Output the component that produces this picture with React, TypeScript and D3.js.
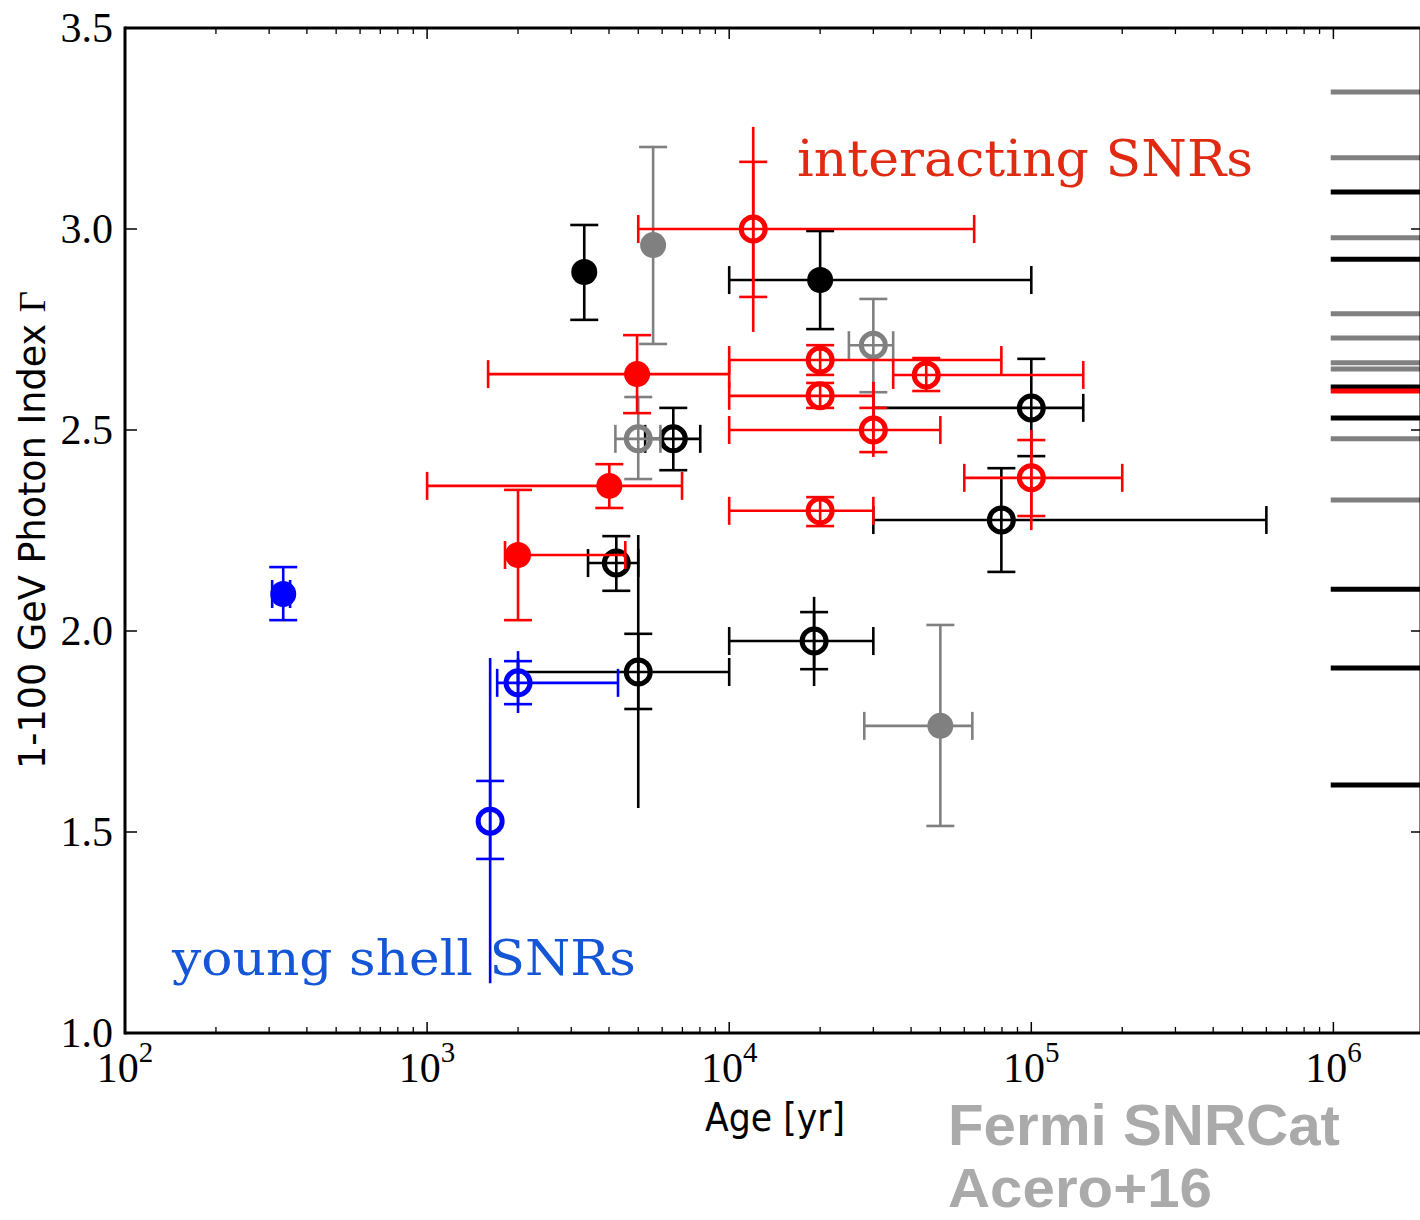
import React from "react";
import * as d3 from "d3";

type Pt = {
  age: number; ageLo?: number; ageHi?: number;
  idx: number; idxLo: number; idxHi: number;
  sysLo?: number; sysHi?: number; filled: boolean;
};

// young shell SNRs (blue)
const youngShell: Pt[] = [
  { age: 334, ageLo: 307, ageHi: 352, idx: 2.092, idxLo: 2.027, idxHi: 2.159, filled: true },
  { age: 2000, ageLo: 1706, ageHi: 4285, idx: 1.871, idxLo: 1.818, idxHi: 1.925, sysLo: 1.796, sysHi: 1.95, filled: false },
  { age: 1617, idx: 1.527, idxLo: 1.433, idxHi: 1.627, sysLo: 1.124, sysHi: 1.933, filled: false },
];

// interacting SNRs (red)
const interacting: Pt[] = [
  { age: 2000, ageLo: 1811, ageHi: 4530, idx: 2.189, idxLo: 2.027, idxHi: 2.351, filled: true },
  { age: 4010, ageLo: 1000, ageHi: 6980, idx: 2.361, idxLo: 2.306, idxHi: 2.415, filled: true },
  { age: 4955, ageLo: 1592, ageHi: 10000, idx: 2.639, idxLo: 2.542, idxHi: 2.736, filled: true },
  { age: 12010, ageLo: 5000, ageHi: 64700, idx: 3.0, idxLo: 2.831, idxHi: 3.167, sysLo: 2.744, sysHi: 3.254, filled: false },
  { age: 20000, ageLo: 10000, ageHi: 79600, idx: 2.674, idxLo: 2.637, idxHi: 2.711, filled: false },
  { age: 20000, ageLo: 10000, ageHi: 30000, idx: 2.585, idxLo: 2.555, idxHi: 2.617, filled: false },
  { age: 44900, ageLo: 34900, ageHi: 148600, idx: 2.637, idxLo: 2.597, idxHi: 2.679, filled: false },
  { age: 30000, ageLo: 10000, ageHi: 50000, idx: 2.5, idxLo: 2.445, idxHi: 2.555, sysLo: 2.433, sysHi: 2.619, filled: false },
  { age: 20000, ageLo: 10000, ageHi: 30000, idx: 2.299, idxLo: 2.261, idxHi: 2.333, filled: false },
  { age: 100000, ageLo: 60000, ageHi: 200000, idx: 2.381, idxLo: 2.286, idxHi: 2.475, sysLo: 2.251, sysHi: 2.5, filled: false },
];

// marginal candidates (gray)
const marginal: Pt[] = [
  { age: 5600, idx: 2.96, idxLo: 2.714, idxHi: 3.204, filled: true },
  { age: 5000, ageLo: 4200, ageHi: 5920, idx: 2.478, idxLo: 2.378, idxHi: 2.582, filled: false },
  { age: 30000, ageLo: 24900, ageHi: 34900, idx: 2.711, idxLo: 2.594, idxHi: 2.826, filled: false },
  { age: 50000, ageLo: 28000, ageHi: 63800, idx: 1.764, idxLo: 1.515, idxHi: 2.015, filled: true },
];

// other classified SNRs (black)
const classified: Pt[] = [
  { age: 3313, idx: 2.893, idxLo: 2.774, idxHi: 3.01, filled: true },
  { age: 20000, ageLo: 10000, ageHi: 100000, idx: 2.873, idxLo: 2.751, idxHi: 2.995, filled: true },
  { age: 6530, ageLo: 5270, ageHi: 8020, idx: 2.478, idxLo: 2.4, idxHi: 2.555, filled: false },
  { age: 4230, ageLo: 3410, ageHi: 5000, idx: 2.169, idxLo: 2.1, idxHi: 2.236, filled: false },
  { age: 5000, ageLo: 2000, ageHi: 10000, idx: 1.898, idxLo: 1.806, idxHi: 1.993, sysLo: 1.56, sysHi: 2.239, filled: false },
  { age: 100000, ageLo: 30000, ageHi: 148600, idx: 2.555, idxLo: 2.435, idxHi: 2.677, filled: false },
  { age: 79600, ageLo: 30000, ageHi: 600000, idx: 2.276, idxLo: 2.147, idxHi: 2.405, filled: false },
  { age: 19100, ageLo: 10000, ageHi: 30000, idx: 1.975, idxLo: 1.905, idxHi: 2.047, sysLo: 1.863, sysHi: 2.085, filled: false },
];

// unknown-age sources, drawn at the right edge
const grayNoAge = [3.341, 3.177, 2.978, 2.789, 2.729, 2.667, 2.652, 2.478, 2.326];
const blackNoAge = [3.092, 2.925, 2.607, 2.53, 2.104, 1.908, 1.617];
const redNoAge = [2.597];

const yTicks = [1.0, 1.5, 2.0, 2.5, 3.0, 3.5];
const xDecades = [2, 3, 4, 5, 6];

const W = 1420, H = 1220;
const left = 125, top = 28, bottom = 1033, right = 1421;

export default function App() {
  const x = d3.scaleLog().domain([1e2, Math.pow(10, 6.29)]).range([left, right]);
  const y = d3.scaleLinear().domain([1, 3.5]).range([bottom, top]);
  const cap = 14;
  const lw = 2.6;

  const minor: number[] = [];
  for (let d = 2; d <= 6; d++) for (let m = 2; m <= 9; m++) {
    const v = m * Math.pow(10, d);
    if (x(v) < right) minor.push(v);
  }

  const series: [Pt[], string][] = [
    [classified, "#000000"],
    [marginal, "#808080"],
    [interacting, "#ff0000"],
    [youngShell, "#0000ff"],
  ];

  const drawPoint = (p: Pt, color: string, key: string) => {
    const cx = x(p.age), cy = y(p.idx);
    const els: React.ReactNode[] = [];
    if (p.sysLo !== undefined && p.sysHi !== undefined) {
      els.push(<line key="s" x1={cx} x2={cx} y1={y(p.sysLo)} y2={y(p.sysHi)} stroke={color} strokeWidth={lw} />);
    }
    if (p.ageLo !== undefined && p.ageHi !== undefined) {
      const a = x(p.ageLo), b = x(p.ageHi);
      els.push(<line key="h" x1={a} x2={b} y1={cy} y2={cy} stroke={color} strokeWidth={lw} />);
      els.push(<line key="hc1" x1={a} x2={a} y1={cy - cap} y2={cy + cap} stroke={color} strokeWidth={lw} />);
      els.push(<line key="hc2" x1={b} x2={b} y1={cy - cap} y2={cy + cap} stroke={color} strokeWidth={lw} />);
    }
    const t = y(p.idxHi), bt = y(p.idxLo);
    els.push(<line key="v" x1={cx} x2={cx} y1={t} y2={bt} stroke={color} strokeWidth={lw} />);
    els.push(<line key="vc1" x1={cx - cap} x2={cx + cap} y1={t} y2={t} stroke={color} strokeWidth={lw} />);
    els.push(<line key="vc2" x1={cx - cap} x2={cx + cap} y1={bt} y2={bt} stroke={color} strokeWidth={lw} />);
    if (p.filled) {
      els.push(<circle key="m" cx={cx} cy={cy} r={13} fill={color} />);
    } else {
      els.push(<circle key="m" cx={cx} cy={cy} r={12} fill="none" stroke={color} strokeWidth={5} />);
    }
    return <g key={key}>{els}</g>;
  };

  const limitStart = x(9.8e5);

  return (
    <svg width={W} height={H} style={{ position: "absolute", left: 0, top: 0, background: "#fff" }}>
      <rect x={0} y={0} width={W} height={H} fill="#fff" />
      {/* right-edge no-age sources */}
      {grayNoAge.map((v, i) => (
        <line key={"g" + i} x1={limitStart} x2={W} y1={y(v)} y2={y(v)} stroke="#808080" strokeWidth={5} />
      ))}
      {blackNoAge.map((v, i) => (
        <line key={"k" + i} x1={limitStart} x2={W} y1={y(v)} y2={y(v)} stroke="#000" strokeWidth={5} />
      ))}
      {redNoAge.map((v, i) => (
        <line key={"r" + i} x1={limitStart} x2={W} y1={y(v)} y2={y(v)} stroke="#ff0000" strokeWidth={5} />
      ))}

      {series.map(([pts, c], si) => pts.map((p, i) => drawPoint(p, c, `${si}-${i}`)))}

      {/* frame */}
      <line x1={left} x2={right} y1={top} y2={top} stroke="#000" strokeWidth={3} />
      <line x1={left} x2={right} y1={bottom} y2={bottom} stroke="#000" strokeWidth={3} />
      <line x1={left} x2={left} y1={top - 1.5} y2={bottom + 1.5} stroke="#000" strokeWidth={3} />
      <line x1={right} x2={right} y1={top} y2={bottom} stroke="#000" strokeWidth={3} />

      {/* y ticks */}
      {yTicks.map((v) => (
        <g key={"yt" + v}>
          <line x1={left} x2={left + 12} y1={y(v)} y2={y(v)} stroke="#000" strokeWidth={1.5} />
          <line x1={right - 10} x2={right} y1={y(v)} y2={y(v)} stroke="#000" strokeWidth={1.5} />
          <text x={113} y={y(v) + 14} textAnchor="end" fontFamily="'Liberation Serif', serif" fontSize={42} fill="#000">
            {v.toFixed(1)}
          </text>
        </g>
      ))}

      {/* x ticks */}
      {xDecades.map((d) => {
        const px = x(Math.pow(10, d));
        return (
          <g key={"xt" + d}>
            <line x1={px} x2={px} y1={bottom} y2={bottom - 11} stroke="#000" strokeWidth={1.5} />
            <line x1={px} x2={px} y1={top} y2={top + 11} stroke="#000" strokeWidth={1.5} />
            <text x={px} y={1082} textAnchor="middle" fontFamily="'Liberation Serif', serif" fontSize={42} fill="#000">
              10<tspan dy={-20} fontSize={29}>{d}</tspan>
            </text>
          </g>
        );
      })}
      {minor.map((v, i) => (
        <g key={"mn" + i}>
          <line x1={x(v)} x2={x(v)} y1={bottom} y2={bottom - 6} stroke="#000" strokeWidth={1.3} />
          <line x1={x(v)} x2={x(v)} y1={top} y2={top + 6} stroke="#000" strokeWidth={1.3} />
        </g>
      ))}

      {/* axis labels */}
      <text transform="translate(45,530) rotate(-90)" textAnchor="middle" fontFamily="'DejaVu Sans', sans-serif" fontSize={37} fill="#000" textLength={478} lengthAdjust="spacingAndGlyphs">
        1-100 GeV Photon Index <tspan fontFamily="'Liberation Serif', serif">Γ</tspan>
      </text>
      <text x={775} y={1131} textAnchor="middle" fontFamily="'DejaVu Sans', sans-serif" fontSize={39} fill="#000" textLength={140} lengthAdjust="spacingAndGlyphs">
        Age [yr]
      </text>

      {/* annotations */}
      <text x={797} y={176} fontFamily="'DejaVu Serif', serif" fontSize={50} fill="#e02a12" textLength={456} lengthAdjust="spacingAndGlyphs">
        interacting SNRs
      </text>
      <text x={172} y={975} fontFamily="'DejaVu Serif', serif" fontSize={48} fill="#1556d6" textLength={464} lengthAdjust="spacingAndGlyphs">
        young shell SNRs
      </text>
      <text x={948} y={1145} fontFamily="'Liberation Sans', sans-serif" fontWeight="bold" fontSize={58} fill="#aaaaaa" textLength={392} lengthAdjust="spacingAndGlyphs">
        Fermi SNRCat
      </text>
      <text x={948} y={1207} fontFamily="'Liberation Sans', sans-serif" fontWeight="bold" fontSize={56} fill="#aaaaaa" textLength={264} lengthAdjust="spacingAndGlyphs">
        Acero+16
      </text>
    </svg>
  );
}
